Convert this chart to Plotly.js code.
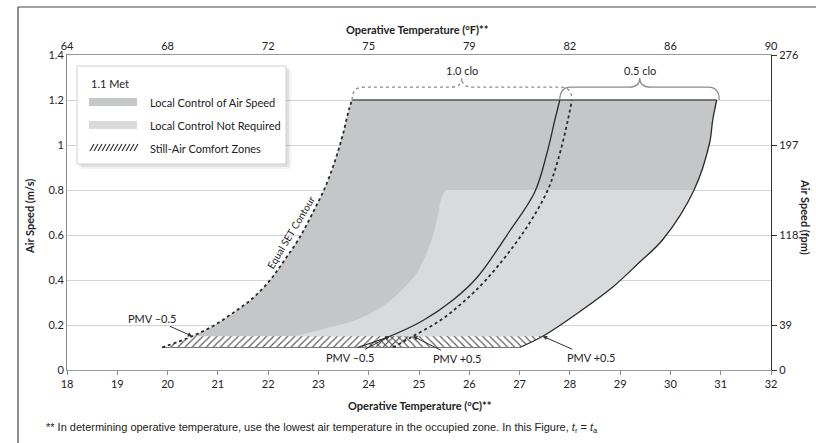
<!DOCTYPE html>
<html>
<head>
<meta charset="utf-8">
<script src="https://cdn.plot.ly/plotly-3.0.1.min.js"></script>
<style>html,body{margin:0;padding:0;background:#fff;}#chart{width:816px;height:443px;}</style>
</head>
<body>
<div id="chart"></div>
<script>
// ---------- DATA ----------
// Operative temperature (°C) / air speed (m/s) curves
const setContourX = [19.89, 20.49, 20.94, 21.34, 21.70, 22.04, 22.33, 22.63, 22.89, 23.13, 23.33, 23.49, 23.61, 23.67];
const setContourY = [0.10, 0.15, 0.20, 0.26, 0.32, 0.40, 0.49, 0.59, 0.70, 0.81, 0.93, 1.05, 1.16, 1.20];

const clo10PlusX = [24.48, 24.88, 25.42, 25.87, 26.37, 27.07, 27.54, 27.76, 27.96, 28.04];
const clo10PlusY = [0.10, 0.15, 0.22, 0.30, 0.41, 0.61, 0.79, 0.93, 1.11, 1.20];

const clo05MinusX = [23.77, 24.42, 25.08, 25.67, 26.15, 26.81, 27.30, 27.54, 27.70, 27.80];
const clo05MinusY = [0.10, 0.15, 0.22, 0.31, 0.41, 0.62, 0.79, 0.96, 1.11, 1.20];

const clo05PlusX = [27.00, 27.46, 28.20, 28.86, 29.39, 29.85, 30.47, 30.78, 30.84, 30.92];
const clo05PlusY = [0.10, 0.15, 0.26, 0.37, 0.48, 0.58, 0.80, 1.01, 1.11, 1.20];

const noControlEdgeX = [22.51, 23.23, 23.83, 24.32, 24.68, 24.98, 25.22, 25.36, 25.44, 25.53];
const noControlEdgeY = [0.15, 0.19, 0.23, 0.29, 0.36, 0.44, 0.56, 0.67, 0.76, 0.80];

const stillAirLow = 0.10;
const stillAirHigh = 0.15;
const noControlLimit = 0.80;
const maxAirSpeed = 1.20;

const xTicksC = [18, 19, 20, 21, 22, 23, 24, 25, 26, 27, 28, 29, 30, 31, 32];
const xTicksFVals = [18, 20, 22, 24, 26, 28, 30, 32];
const xTicksFText = ['64', '68', '72', '75', '79', '82', '86', '90'];
const yTicksMs = [0, 0.2, 0.4, 0.6, 0.8, 1, 1.2, 1.4];
const yTicksMsText = ['0', '0.2', '0.4', '0.6', '0.8', '1', '1.2', '1.4'];
const yTicksFpmVals = [0, 0.2, 0.6, 1.0, 1.4];
const yTicksFpmText = ['0', '39', '118', '197', '276'];

const clo10Label = {x: 25.85, text: '1.0 clo'};
const clo05Label = {x: 29.39, text: '0.5 clo'};

// ---------- helpers ----------
function pts(xs, ys, test) {
  const o = [];
  for (let i = 0; i < xs.length; i++) if (test(ys[i])) o.push([xs[i], ys[i]]);
  return o;
}
function at(xs, ys, v) { const i = ys.indexOf(v); return [xs[i], ys[i]]; }
function curveTrace(p, extra) {
  return Object.assign({type: 'scatter', mode: 'lines', x: p.map(q => q[0]), y: p.map(q => q[1]),
    line: {width: 0, shape: 'spline', smoothing: 1}, hoverinfo: 'skip', showlegend: false}, extra || {});
}
function polyTrace(poly, extra) {
  return Object.assign({type: 'scatter', mode: 'lines', x: poly.map(p => p[0]), y: poly.map(p => p[1]),
    fill: 'toself', line: {width: 0}, hoverinfo: 'skip', showlegend: false}, extra);
}
function lineTrace(xs, ys, dash, w) {
  return {type: 'scatter', mode: 'lines', x: xs, y: ys,
    line: {color: '#2a2a2a', width: w || 1.3, dash: dash || 'solid', shape: 'spline', smoothing: 1},
    hoverinfo: 'skip', showlegend: false};
}

const upper = y => y >= stillAirHigh;
// Still-air zones (small, straight-edged)
const hatch10 = pts(setContourX, setContourY, y => y <= stillAirHigh)
  .concat(pts(clo10PlusX, clo10PlusY, y => y <= stillAirHigh).reverse());
const hatch05 = pts(clo05MinusX, clo05MinusY, y => y <= stillAirHigh)
  .concat(pts(clo05PlusX, clo05PlusY, y => y <= stillAirHigh).reverse());

const traces = [
  // dark region: between left SET contour and 0.5 clo PMV+0.5 curve
  curveTrace(pts(setContourX, setContourY, upper)),
  curveTrace(pts(clo05PlusX, clo05PlusY, upper), {fill: 'tonextx', fillcolor: '#c5c6c8'}),
  // light region: no local control required (<= 0.8 m/s)
  curveTrace(noControlEdgeX.map((x, i) => [x, noControlEdgeY[i]])),
  curveTrace(pts(clo05PlusX, clo05PlusY, y => y >= stillAirHigh && y <= noControlLimit), {fill: 'tonextx', fillcolor: '#d9dadc'}),
  polyTrace(hatch10, {fillcolor: 'rgba(0,0,0,0)', fillpattern: {shape: '/', fgcolor: '#555', bgcolor: 'rgba(0,0,0,0)', size: 5, solidity: 0.22}}),
  polyTrace(hatch05, {fillcolor: 'rgba(0,0,0,0)', fillpattern: {shape: '\\', fgcolor: '#555', bgcolor: 'rgba(0,0,0,0)', size: 5, solidity: 0.22}}),
  {type: 'scatter', mode: 'lines', x: [setContourX[0], clo05PlusX[0]], y: [stillAirLow, stillAirLow],
    line: {color: '#777', width: 1}, hoverinfo: 'skip', showlegend: false},
  {type: 'scatter', mode: 'lines', x: [setContourX[setContourX.length - 1], clo05PlusX[clo05PlusX.length - 1]], y: [maxAirSpeed, maxAirSpeed],
    line: {color: '#555', width: 1.3}, hoverinfo: 'skip', showlegend: false},
  lineTrace(setContourX, setContourY, 'dot', 1.8),
  lineTrace(clo10PlusX, clo10PlusY, 'dot', 1.8),
  lineTrace(clo05MinusX, clo05MinusY, 'solid', 1.3),
  lineTrace(clo05PlusX, clo05PlusY, 'solid', 1.3),
  // invisible trace to activate secondary axes
  {type: 'scatter', mode: 'lines', x: [18, 32], y: [0, 1.4], xaxis: 'x2', yaxis: 'y2', line: {width: 0}, hoverinfo: 'skip', showlegend: false}
];

// ---------- layout geometry (pixels -> paper) ----------
const PL = 67, PR = 771, PT = 55, PB = 370;
const px = p => (p - PL) / (PR - PL);
const py = p => (PB - p) / (PB - PT);

const FONT = 'Lato, "Open Sans", sans-serif';
const tickFont = {family: FONT, size: 11, color: '#222'};

const shapes = [];
// outer frame (left + top)
shapes.push({type: 'line', xref: 'paper', yref: 'paper', x0: px(18), x1: px(18), y0: py(7), y1: py(450), line: {color: '#444', width: 1.2}});
shapes.push({type: 'line', xref: 'paper', yref: 'paper', x0: px(18), x1: px(816), y0: py(7), y1: py(7), line: {color: '#444', width: 1.2}});

// braces
const yb = 1.257, yp = 1.298;
function bracePath(xl, xr, xc) {
  return `M ${xl} ${maxAirSpeed} Q ${xl} ${yb} ${xl + 0.22} ${yb} L ${xc - 0.22} ${yb} Q ${xc} ${yb} ${xc} ${yp} Q ${xc} ${yb} ${xc + 0.22} ${yb} L ${xr - 0.22} ${yb} Q ${xr} ${yb} ${xr} ${maxAirSpeed}`;
}
shapes.push({type: 'path', xref: 'x', yref: 'y', layer: 'above',
  path: bracePath(setContourX[setContourX.length - 1], clo10PlusX[clo10PlusX.length - 1], clo10Label.x),
  line: {color: '#8a8a8a', width: 1.3, dash: 'dot'}});
shapes.push({type: 'path', xref: 'x', yref: 'y', layer: 'above',
  path: bracePath(clo05MinusX[clo05MinusX.length - 1], clo05PlusX[clo05PlusX.length - 1] + 0.05, clo05Label.x),
  line: {color: '#8a8a8a', width: 1.2}});

// legend box with shadow
shapes.push({type: 'rect', xref: 'paper', yref: 'paper', x0: px(81), x1: px(291), y0: py(70), y1: py(169), fillcolor: 'rgba(0,0,0,0.05)', line: {width: 0}});
shapes.push({type: 'rect', xref: 'paper', yref: 'paper', x0: px(79), x1: px(289), y0: py(68), y1: py(167), fillcolor: 'rgba(0,0,0,0.08)', line: {width: 0}});
shapes.push({type: 'rect', xref: 'paper', yref: 'paper', x0: px(77), x1: px(286), y0: py(66), y1: py(164), fillcolor: '#fff', line: {color: '#d0d0d0', width: 1}});
shapes.push({type: 'rect', xref: 'paper', yref: 'paper', x0: px(89), x1: px(137), y0: py(98), y1: py(106), fillcolor: '#c5c6c8', line: {width: 0}});
shapes.push({type: 'rect', xref: 'paper', yref: 'paper', x0: px(89), x1: px(137), y0: py(121), y1: py(129), fillcolor: '#d9dadc', line: {width: 0}});
for (let i = 0; i < 12; i++) {
  const x0 = 90 + i * 4;
  shapes.push({type: 'line', xref: 'paper', yref: 'paper', x0: px(x0), x1: px(x0 + 4), y0: py(151), y1: py(144), line: {color: '#333', width: 1.2}});
}

const annotations = [];
function txt(text, x, y, opts) {
  annotations.push(Object.assign({xref: 'paper', yref: 'paper', x: px(x), y: py(y), text: text, showarrow: false,
    xanchor: 'center', yanchor: 'middle', font: {family: FONT, size: 11, color: '#222'}}, opts || {}));
}
txt('<b>Operative Temperature (°F)**</b>', 417, 29);
txt('<b>Operative Temperature (°C)**</b>', 420, 405);
txt('<b>Air Speed (m/s)</b>', 30, 217, {textangle: -90});
txt('<b>Air Speed (fpm)</b>', 805, 217, {textangle: 90});
txt('** In determining operative temperature, use the lowest air temperature in the occupied zone. In this Figure, <i>t</i><sub>r</sub> = <i>t</i><sub>a</sub>',
  44, 428, {xanchor: 'left', font: {family: '"Liberation Sans", Arial, sans-serif', size: 11, color: '#222'}});
txt('1.1 Met', 89, 83, {xanchor: 'left', font: {family: FONT, size: 11, color: '#222'}});
txt('Local Control of Air Speed', 148, 102, {xanchor: 'left', font: {family: FONT, size: 11, color: '#222'}});
txt('Local Control Not Required', 148, 125, {xanchor: 'left', font: {family: FONT, size: 11, color: '#222'}});
txt('Still-Air Comfort Zones', 148, 148, {xanchor: 'left', font: {family: FONT, size: 11, color: '#222'}});

// data-anchored labels
annotations.push({x: clo10Label.x, y: 1.333, xref: 'x', yref: 'y', text: clo10Label.text, showarrow: false, font: {family: FONT, size: 11, color: '#222'}});
annotations.push({x: clo05Label.x, y: 1.333, xref: 'x', yref: 'y', text: clo05Label.text, showarrow: false, font: {family: FONT, size: 11, color: '#222'}});
annotations.push({x: 22.45, y: 0.615, xref: 'x', yref: 'y', text: 'Equal SET Contour', showarrow: false, textangle: -59,
  font: {family: FONT, size: 10, color: '#222'}});

function pmv(text, head, ax, ay) {
  annotations.push({x: head[0], y: head[1], xref: 'x', yref: 'y', text: text, showarrow: true, ax: ax, ay: ay,
    arrowhead: 2, arrowsize: 0.9, arrowwidth: 1, arrowcolor: '#333', standoff: 0,
    font: {family: FONT, size: 11, color: '#222'}});
}
pmv('PMV \u20130.5', at(setContourX, setContourY, stillAirHigh), -40, -18);
pmv('PMV \u20130.5', at(clo05MinusX, clo05MinusY, stillAirHigh), -40, 21);
pmv('PMV +0.5', at(clo10PlusX, clo10PlusY, stillAirHigh), 44, 22);
pmv('PMV +0.5', at(clo05PlusX, clo05PlusY, stillAirHigh), 48, 21);

const layout = {
  width: 816, height: 443,
  margin: {l: PL, r: 816 - PR, t: PT, b: 443 - PB, pad: 0},
  paper_bgcolor: '#fff', plot_bgcolor: '#fff',
  showlegend: false,
  font: {family: FONT, size: 11, color: '#222'},
  xaxis: {range: [18, 32], tickvals: xTicksC, ticktext: xTicksC.map(String), ticks: 'outside', ticklen: 4, tickcolor: '#888',
    showline: true, linecolor: '#999', linewidth: 1, showgrid: false, zeroline: false, tickfont: tickFont, fixedrange: true},
  xaxis2: {range: [18, 32], overlaying: 'x', side: 'top', tickvals: xTicksFVals, ticktext: xTicksFText, ticks: '',
    showline: true, linecolor: '#999', linewidth: 1, showgrid: false, zeroline: false, tickfont: tickFont, fixedrange: true},
  yaxis: {range: [0, 1.4], tickvals: yTicksMs, ticktext: yTicksMsText, ticks: '', showline: true, linecolor: '#888', linewidth: 1,
    showgrid: true, gridcolor: '#d4d4d4', gridwidth: 1, zeroline: false, tickfont: tickFont, fixedrange: true},
  yaxis2: {range: [0, 1.4], overlaying: 'y', side: 'right', tickvals: yTicksFpmVals, ticktext: yTicksFpmText, ticks: 'outside', ticklen: 5,
    tickcolor: '#333', showline: true, linecolor: '#333', linewidth: 1, showgrid: false, zeroline: false, tickfont: tickFont, fixedrange: true},
  shapes: shapes,
  annotations: annotations
};

Plotly.newPlot('chart', traces, layout, {staticPlot: true, displayModeBar: false});
</script>
</body>
</html>
